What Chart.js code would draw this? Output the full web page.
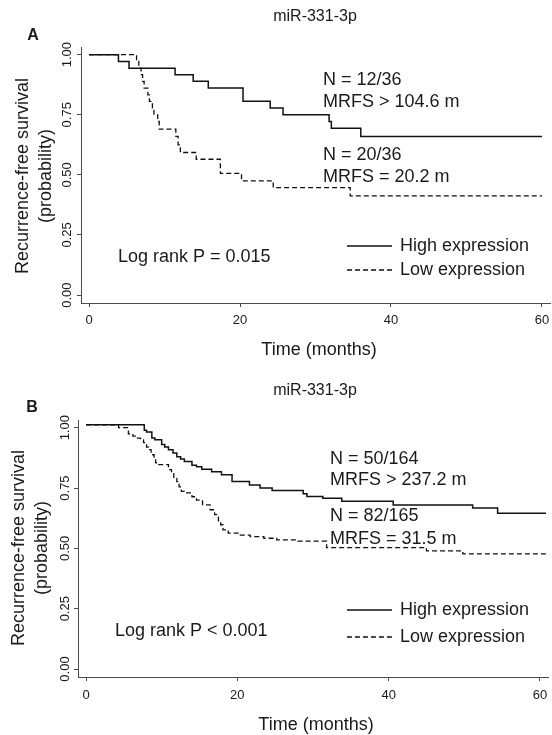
<!DOCTYPE html>
<html lang="en">
<head>
<meta charset="UTF-8">
<title>miR-331-3p recurrence-free survival</title>
<script src="https://cdn.jsdelivr.net/npm/chart.js"></script>
<style>
    body { margin: 0; background: #fff; }
    .panel { position: absolute; left: 0; width: 552px; }
    #panelA { top: 0; height: 368px; }
    #panelB { top: 368px; height: 367px; }
</style>
</head>
<body>
<div class="panel" id="panelA"><canvas id="chartA" width="552" height="368"></canvas></div>
<div class="panel" id="panelB"><canvas id="chartB" width="552" height="367"></canvas></div>

<script>
// axis ticks
var xTicks = [0, 20, 40, 60];
var yTicks = [0, 0.25, 0.5, 0.75, 1];
var yTickLabels = ['0.00', '0.25', '0.50', '0.75', '1.00'];
var seriesLabels = ['High expression', 'Low expression'];

// panel A (months, survival probability)
var highA_t = [0, 3.9, 5.3, 11.4, 13.8, 15.8, 20.4, 24.0, 25.7, 31.8, 32.1, 36.0, 60];
var highA_s = [1, 0.972, 0.944, 0.917, 0.889, 0.861, 0.806, 0.778, 0.75, 0.722, 0.694, 0.66, 0.66];
var lowA_t = [0, 6.3, 6.6, 6.9, 7.1, 7.3, 7.8, 8.0, 8.4, 8.6, 9.1, 9.3, 11.5, 11.8, 12.1, 14.2, 17.4, 20.2, 24.4, 34.6, 60];
var lowA_s = [1, 0.972, 0.944, 0.917, 0.889, 0.861, 0.833, 0.806, 0.778, 0.75, 0.722, 0.69, 0.66, 0.625, 0.593, 0.565, 0.506, 0.475, 0.447, 0.4125, 0.4125];

// panel B
var highB_t = [0, 7.7, 8.0, 8.7, 9.1, 10.0, 10.4, 10.9, 11.5, 12.0, 12.5, 13.0, 14.0, 14.6, 15.3, 16.6, 17.9, 19.3, 21.6, 23.0, 24.6, 28.7, 29.2, 31.3, 33.8, 40.6, 51.1, 54.4, 60.8];
var highB_s = [1.012, 0.99, 0.982, 0.957, 0.95, 0.93, 0.92, 0.909, 0.895, 0.88, 0.87, 0.86, 0.845, 0.838, 0.828, 0.818, 0.805, 0.777, 0.763, 0.75, 0.74, 0.726, 0.715, 0.708, 0.695, 0.68, 0.667, 0.646, 0.646];
var lowB_t = [0, 4.3, 5.6, 6.2, 6.5, 7.2, 7.6, 8.0, 8.3, 8.6, 9.0, 9.2, 9.3, 10.9, 11.3, 11.6, 12.0, 12.3, 12.6, 13.0, 14.0, 14.6, 15.4, 16.4, 17.0, 17.5, 17.8, 18.1, 18.8, 20.4, 21.7, 23.5, 25.2, 28.0, 31.8, 45.0, 49.8, 60.8];
var lowB_s = [1.012, 1.0, 0.975, 0.965, 0.957, 0.95, 0.938, 0.92, 0.909, 0.888, 0.87, 0.855, 0.847, 0.826, 0.81, 0.79, 0.777, 0.755, 0.736, 0.73, 0.714, 0.70, 0.68, 0.66, 0.64, 0.61, 0.598, 0.577, 0.563, 0.555, 0.549, 0.542, 0.535, 0.53, 0.503, 0.49, 0.477, 0.477];

var ink = '#111';
var axisColor = '#4a4a4a';
var textColor = '#1a1a1a';
var fontFam = '"Liberation Sans", Arial, sans-serif';

function pairs(t, s) {
    return t.map(function (v, i) { return { x: v, y: s[i] }; });
}

// draws all the text of one panel, R style
function textPlugin(p) {
    return {
        id: 'rText' + p.letter,
        afterDraw: function (chart) {
            var ctx = chart.ctx;
            var xs = chart.scales.x, ys = chart.scales.y;
            ctx.save();
            ctx.fillStyle = textColor;

            // y tick labels, rotated
            ctx.font = '13px ' + fontFam;
            ctx.textAlign = 'center';
            ctx.textBaseline = 'middle';
            yTicks.forEach(function (v, i) {
                ctx.save();
                ctx.translate(p.yTickX, ys.getPixelForValue(v));
                ctx.rotate(-Math.PI / 2);
                ctx.fillText(yTickLabels[i], 0, 0);
                ctx.restore();
            });
            // x tick labels
            xTicks.forEach(function (v) {
                ctx.fillText(String(v), xs.getPixelForValue(v), p.xTickY);
            });

            // axis titles
            ctx.font = '18px ' + fontFam;
            ctx.fillText('Time (months)', p.xTitleX, p.xTitleY);
            ctx.save();
            ctx.translate(p.yTitleX1, p.yTitleY);
            ctx.rotate(-Math.PI / 2);
            ctx.fillText('Recurrence-free survival', 0, 0);
            ctx.restore();
            ctx.save();
            ctx.translate(p.yTitleX2, p.yTitleY);
            ctx.rotate(-Math.PI / 2);
            ctx.fillText('(probability)', 0, 0);
            ctx.restore();

            // title + panel letter
            ctx.font = '16px ' + fontFam;
            ctx.textBaseline = 'alphabetic';
            ctx.fillText('miR-331-3p', p.titleX, p.titleY);
            ctx.font = 'bold 16px ' + fontFam;
            ctx.textBaseline = 'middle';
            ctx.fillText(p.letter, p.letterX, p.letterY);

            // annotations
            ctx.font = '18px ' + fontFam;
            ctx.textAlign = 'left';
            p.notes.forEach(function (n) { ctx.fillText(n[0], n[1], n[2]); });

            // legend
            ctx.strokeStyle = ink;
            ctx.lineWidth = 1.3;
            ctx.beginPath();
            ctx.moveTo(347, p.legY1); ctx.lineTo(392, p.legY1);
            ctx.stroke();
            ctx.setLineDash([5, 3]);
            ctx.beginPath();
            ctx.moveTo(347, p.legY2); ctx.lineTo(392, p.legY2);
            ctx.stroke();
            ctx.setLineDash([]);
            ctx.fillText(seriesLabels[0], 400, p.legY1);
            ctx.fillText(seriesLabels[1], 400, p.legY2);
            ctx.restore();
        }
    };
}

function makeChart(id, highT, highS, lowT, lowS, p) {
    var canvas = document.getElementById(id);
    var W = canvas.width, H = canvas.height;
    var grid = { drawOnChartArea: false, drawTicks: true, tickLength: 4, color: axisColor, lineWidth: 1 };
    return new Chart(canvas, {
        type: 'line',
        data: {
            datasets: [
                { label: seriesLabels[0], data: pairs(highT, highS), borderColor: ink, borderWidth: 1.5,
                  stepped: 'before', pointRadius: 0, fill: false },
                { label: seriesLabels[1], data: pairs(lowT, lowS), borderColor: ink, borderWidth: 1.3,
                  borderDash: [5, 3], stepped: 'before', pointRadius: 0, fill: false }
            ]
        },
        options: {
            responsive: false,
            animation: false,
            devicePixelRatio: 1,
            layout: { padding: { left: 0, top: p.top, right: W - p.right, bottom: 0 } },
            plugins: { legend: { display: false }, tooltip: { enabled: false } },
            scales: {
                x: {
                    type: 'linear', min: -1.06, max: 61.06,
                    afterBuildTicks: function (s) { s.ticks = xTicks.map(function (v) { return { value: v }; }); },
                    afterFit: function (s) { s.height = H - p.bottom; },
                    ticks: { display: false },
                    grid: grid,
                    border: { color: axisColor, width: 1 }
                },
                y: {
                    type: 'linear', min: -0.033, max: 1.032,
                    afterBuildTicks: function (s) { s.ticks = yTicks.map(function (v) { return { value: v }; }); },
                    afterFit: function (s) { s.width = p.left; },
                    ticks: { display: false },
                    grid: grid,
                    border: { color: axisColor, width: 1 }
                }
            }
        },
        plugins: [textPlugin(p)]
    });
}

makeChart('chartA', highA_t, highA_s, lowA_t, lowA_s, {
    letter: 'A', left: 81, right: 550, top: 47, bottom: 303,
    yTickX: 67.5, xTickY: 320, xTitleX: 319, xTitleY: 350,
    yTitleX1: 23, yTitleX2: 46, yTitleY: 176,
    titleX: 315, titleY: 21, letterX: 33, letterY: 36,
    legY1: 246, legY2: 270,
    notes: [['N = 12/36', 323, 80], ['MRFS > 104.6 m', 323, 102.5],
            ['N = 20/36', 323, 155], ['MRFS = 20.2 m', 323, 177],
            ['Log rank P = 0.015', 118, 257]]
});

makeChart('chartB', highB_t, highB_s, lowB_t, lowB_s, {
    letter: 'B', left: 78, right: 548, top: 52, bottom: 309,
    yTickX: 65, xTickY: 327, xTitleX: 316, xTitleY: 357,
    yTitleX1: 19, yTitleX2: 42, yTitleY: 180,
    titleX: 315, titleY: 27, letterX: 32, letterY: 40,
    legY1: 242, legY2: 269,
    notes: [['N = 50/164', 330, 91], ['MRFS > 237.2 m', 330, 112],
            ['N = 82/165', 330, 148], ['MRFS = 31.5 m', 330, 171],
            ['Log rank P < 0.001', 115, 263]]
});
</script>
</body>
</html>
